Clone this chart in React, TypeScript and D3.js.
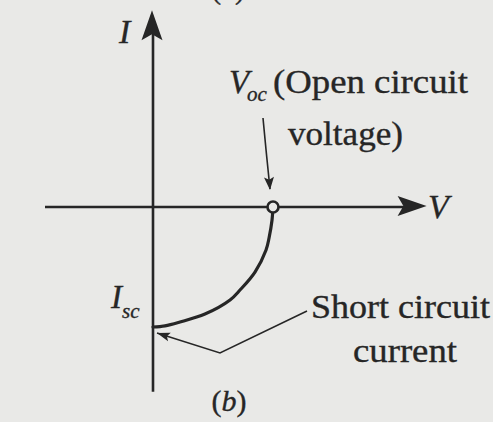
import React from "react";
import * as d3 from "d3";

// Solar-cell I–V characteristic (normalised: Voc = 1, Isc = -1)
const voltage = [1, 0.992, 0.967, 0.942, 0.85, 0.725, 0.642, 0.433, 0.225, 0.1, 0];
const current = [0, -0.108, -0.258, -0.358, -0.542, -0.692, -0.775, -0.892, -0.958, -0.99, -1];

// Axis extents in data units
const vAxisExtent = [-0.9, 2.28];
const iAxisExtent = [1.64, -1.54];

const axisLabels = { current: "I", voltage: "V" };
const vocLabel = { sym: "V", sub: "oc", line1: "(Open circuit", line2: "voltage)" };
const iscLabel = { sym: "I", sub: "sc", line1: "Short circuit", line2: "current" };
const caption = "b";

const W = 493;
const H = 422;
const ink = "#262626";
const paper = "#e9e9e7";
const serif = "Liberation Serif";

export default function App() {
  const x = d3.scaleLinear().domain([0, 1]).range([153, 273]);
  const y = d3.scaleLinear().domain([0, -1]).range([207, 327]);

  const pts: [number, number][] = voltage.map((v, i) => [v, current[i]]);
  const curve = d3
    .line<[number, number]>()
    .x((d) => x(d[0]))
    .y((d) => y(d[1]))
    .curve(d3.curveCatmullRom.alpha(0.5))(pts);

  const x0 = x(0);
  const y0 = y(0);
  const xEnd = x(vAxisExtent[1]);
  const yTop = y(iAxisExtent[0]);

  // filled arrowhead with a slight notch at the back
  const head = (tx: number, ty: number, ang: number, len: number, wid: number) => {
    const c = Math.cos(ang), s = Math.sin(ang);
    const p = (a: number, b: number) => [tx + a * c - b * s, ty + a * s + b * c];
    const pts2 = [p(0, 0), p(-len, -wid / 2), p(-len * 0.8, 0), p(-len, wid / 2)];
    return "M" + pts2.map((q) => q.join(",")).join("L") + "Z";
  };

  // pointer from Voc label down to the open-circuit point
  const vocArrow = d3.line().curve(d3.curveBasis)([
    [263, 118],
    [266, 150],
    [270, 189],
  ]);
  const vocAng = Math.atan2(189 - 170, 270 - 268.5);

  // pointer from the Isc label to the short-circuit point
  const iscTip: [number, number] = [x(0) + 4, y(-1) + 6];
  const iscPath = d3.line()([[307, 311], [220, 353], iscTip]);
  const iscAng = Math.atan2(iscTip[1] - 353, iscTip[0] - 220);

  const txt = { fill: ink, stroke: ink, strokeWidth: 0.35 };

  return (
    <svg
      width={W}
      height={H}
      style={{ position: "absolute", left: 0, top: 0, background: paper, fontFamily: serif }}
    >
      <rect width={W} height={H} fill={paper} />

      {/* clipped caption of the neighbouring panel */}
      <text x={228} y={-1} fontSize={28} textAnchor="middle" {...txt}>
        (<tspan fontStyle="italic">a</tspan>)
      </text>

      {/* axes */}
      <line x1={x(vAxisExtent[0])} x2={xEnd - 20} y1={y0} y2={y0} stroke={ink} strokeWidth={2.6} />
      <line x1={x0} x2={x0} y1={yTop + 20} y2={y(iAxisExtent[1])} stroke={ink} strokeWidth={2.6} />
      <path d={head(xEnd, y0 - 1, 0, 29, 20)} fill={ink} />
      <path d={head(x0 - 1, yTop, -Math.PI / 2, 30, 21)} fill={ink} />

      <text x={119} y={43} fontSize={34} fontStyle="italic" {...txt}>
        {axisLabels.current}
      </text>
      <text x={428} y={218} fontSize={34} fontStyle="italic" {...txt}>
        {axisLabels.voltage}
      </text>

      {/* I–V curve */}
      <path d={curve ?? ""} fill="none" stroke={ink} strokeWidth={3.2} strokeLinecap="round" />
      <circle cx={x(1)} cy={y(0)} r={5.5} fill={paper} stroke={ink} strokeWidth={2.6} />

      {/* Voc annotation */}
      <text x={229} y={93} fontSize={33} fontStyle="italic" {...txt}>
        {vocLabel.sym}
      </text>
      <text x={247} y={101} fontSize={21} fontStyle="italic" {...txt}>
        {vocLabel.sub}
      </text>
      <text x={273} y={93} fontSize={33} textLength={195} lengthAdjust="spacingAndGlyphs" {...txt}>
        {vocLabel.line1}
      </text>
      <text x={288} y={145} fontSize={33} textLength={115} lengthAdjust="spacingAndGlyphs" {...txt}>
        {vocLabel.line2}
      </text>
      <path d={vocArrow ?? ""} fill="none" stroke={ink} strokeWidth={1.6} />
      <path d={head(270, 190, vocAng, 13, 10)} fill={ink} />

      {/* Isc annotation */}
      <text x={111} y={308} fontSize={33} fontStyle="italic" {...txt}>
        {iscLabel.sym}
      </text>
      <text x={122} y={318} fontSize={21} fontStyle="italic" {...txt}>
        {iscLabel.sub}
      </text>
      <path d={iscPath ?? ""} fill="none" stroke={ink} strokeWidth={1.6} />
      <path d={head(iscTip[0], iscTip[1], iscAng, 13, 9)} fill={ink} />
      <text x={311} y={318} fontSize={33} textLength={179} lengthAdjust="spacingAndGlyphs" {...txt}>
        {iscLabel.line1}
      </text>
      <text x={353} y={362} fontSize={33} textLength={104} lengthAdjust="spacingAndGlyphs" {...txt}>
        {iscLabel.line2}
      </text>

      {/* panel caption */}
      <text x={229} y={411} fontSize={30} textAnchor="middle" {...txt}>
        (<tspan fontStyle="italic">{caption}</tspan>)
      </text>
    </svg>
  );
}
